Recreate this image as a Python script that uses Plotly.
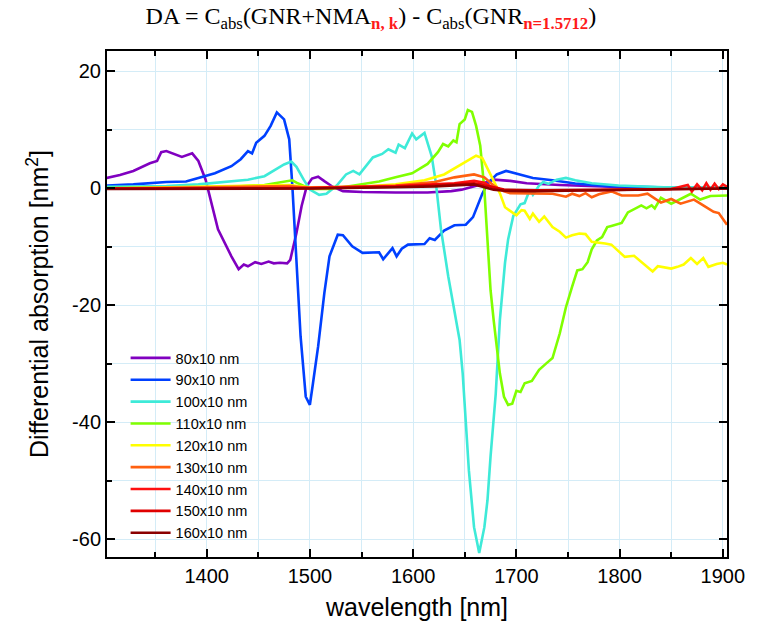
import plotly.graph_objects as go

# ---------------- data ----------------
labels = ["80x10 nm", "90x10 nm", "100x10 nm", "110x10 nm", "120x10 nm",
          "130x10 nm", "140x10 nm", "150x10 nm", "160x10 nm"]
colors = ["#8000C0", "#0040FF", "#3EEAD8", "#80FF00", "#FFFF00",
          "#FF6010", "#FF1010", "#E00000", "#8B0000"]

wl_80 = [1303, 1316, 1329, 1338, 1345, 1352, 1356, 1361, 1370, 1376, 1386, 1392, 1399, 1405,
         1411, 1424, 1431, 1436, 1440, 1447, 1453, 1460, 1465, 1471, 1478, 1481, 1487, 1492,
         1497, 1502, 1508, 1514, 1522, 1532, 1551, 1583, 1614, 1637, 1647, 1662, 1678, 1694,
         1710, 1742, 1773, 1805, 1850, 1904]
da_80 = [1.8, 2.3, 3.0, 3.8, 4.3, 4.7, 6.2, 6.4, 5.8, 5.4, 6.0, 4.7, 1.5, -3.0,
         -7.0, -11.6, -13.8, -13.0, -13.3, -12.6, -12.9, -12.5, -12.8, -12.7, -12.8, -12.2, -7.6, -3.0,
         0.4, 1.7, 2.0, 1.25, 0.3, -0.45, -0.6, -0.7, -0.7, -0.45, -0.2, 0.5, 1.5, 1.3,
         0.9, 0.6, 0.4, 0.2, 0.1, 0.0]

wl_90 = [1303, 1329, 1361, 1380, 1392, 1408, 1424, 1433, 1440, 1444, 1448, 1456, 1462, 1468,
         1475, 1480, 1483, 1487, 1491, 1496, 1500, 1503, 1508, 1514, 1519, 1527, 1532, 1541,
         1551, 1567, 1571, 1580, 1584, 1589, 1595, 1611, 1616, 1621, 1630, 1640, 1651, 1658,
         1662, 1667, 1672, 1681, 1690, 1704, 1716, 1735, 1757, 1789, 1837, 1904]
da_90 = [0.5, 0.7, 1.1, 1.2, 1.8, 2.6, 3.8, 5.0, 6.4, 6.0, 7.8, 9.0, 10.7, 13.0,
         11.8, 8.4, 0.5, -12.0, -25.3, -35.6, -37.0, -33.3, -27.0, -17.9, -11.6, -7.9, -8.0, -9.9,
         -11.0, -10.9, -12.1, -10.2, -11.6, -10.3, -9.6, -9.5, -8.5, -8.8, -7.2, -6.3, -6.2, -4.9,
         -3.2, -0.9, 0.8, 2.4, 3.0, 2.4, 1.8, 1.4, 0.85, 0.4, 0.2, 0.1]

wl_100 = [1303, 1361, 1392, 1424, 1440, 1456, 1466, 1475, 1482, 1487, 1494, 1500, 1509, 1516,
          1526, 1535, 1542, 1548, 1561, 1570, 1576, 1583, 1586, 1592, 1599, 1603, 1611, 1618,
          1622, 1627, 1634, 1640, 1645, 1648, 1651, 1654, 1659, 1664, 1669, 1672, 1675, 1680,
          1684, 1689, 1692, 1697, 1704, 1708, 1713, 1716, 1722, 1726, 1731, 1739, 1748, 1757,
          1773, 1799, 1843, 1904]
da_100 = [0.3, 0.4, 0.7, 1.2, 1.5, 2.1, 3.1, 4.1, 4.6, 3.7, 1.5, -0.2, -1.1, -0.9,
          0.5, 2.4, 3.0, 2.4, 5.3, 5.9, 6.7, 6.1, 7.5, 6.9, 9.4, 8.4, 9.5, 5.5,
          1.0, -7.0, -15.0, -21.3, -25.9, -31.6, -39.6, -48.2, -57.9, -62.3, -57.9, -53.3, -45.8, -35.1,
          -22.5, -12.7, -8.7, -4.7, -2.7, -2.5, -0.2, -1.1, 0.5, 1.1, 0.8, 1.5, 1.8, 1.4,
          0.9, 0.5, 0.2, 0.2]

wl_110 = [1303, 1424, 1456, 1475, 1483, 1487, 1497, 1503, 1519, 1535, 1551, 1567, 1583, 1599,
          1614, 1624, 1629, 1634, 1639, 1642, 1645, 1650, 1653, 1657, 1661, 1665, 1669, 1672,
          1675, 1678, 1681, 1684, 1688, 1692, 1696, 1700, 1704, 1708, 1715, 1718, 1722, 1729,
          1735, 1742, 1748, 1754, 1759, 1764, 1769, 1773, 1778, 1783, 1788, 1792, 1802, 1808,
          1821, 1826, 1831, 1834, 1840, 1850, 1859, 1869, 1878, 1888, 1904]
da_110 = [0.05, 0.3, 0.6, 1.2, 1.4, 1.0, 0.2, -0.1, -0.1, 0.3, 0.8, 1.2, 1.9, 2.6,
          4.2, 6.2, 7.6, 7.2, 8.2, 7.9, 11.0, 11.8, 13.4, 13.1, 10.7, 7.3, -0.2, -9.0,
          -17.4, -22.5, -27.6, -31.6, -35.6, -37.0, -36.8, -34.6, -34.8, -33.3, -32.9, -32.0, -31.0, -29.9,
          -29.0, -24.8, -20.3, -16.8, -14.0, -13.8, -12.6, -10.4, -8.9, -8.3, -6.6, -6.4, -5.9, -4.1,
          -2.9, -3.4, -2.9, -3.4, -1.6, -2.6, -1.8, -0.9, -1.9, -1.3, -1.2]

wl_120 = [1303, 1480, 1500, 1551, 1583, 1611, 1630, 1646, 1661, 1667, 1671, 1678, 1684, 1689,
          1696, 1700, 1705, 1708, 1713, 1716, 1722, 1727, 1735, 1742, 1748, 1754, 1761, 1767,
          1773, 1780, 1786, 1792, 1805, 1814, 1824, 1832, 1837, 1843, 1850, 1856, 1862, 1869,
          1875, 1881, 1886, 1894, 1900, 1904]
da_120 = [0.0, 0.6, 0.2, 0.3, 0.7, 1.4, 2.4, 4.1, 5.6, 5.2, 3.8, 1.5, -0.8, -3.2,
          -4.0, -4.6, -3.7, -3.8, -5.2, -4.3, -5.7, -4.8, -6.6, -7.4, -8.4, -8.0, -7.7, -7.8,
          -9.1, -9.2, -9.4, -9.6, -11.7, -11.5, -13.0, -14.2, -13.3, -13.5, -13.7, -13.4, -13.0, -11.9,
          -12.9, -11.9, -13.4, -12.9, -12.7, -13.0]

wl_130 = [1303, 1480, 1500, 1583, 1621, 1640, 1659, 1669, 1678, 1688, 1694, 1716, 1735, 1748,
          1754, 1761, 1767, 1773, 1780, 1792, 1802, 1818, 1827, 1840, 1850, 1859, 1872, 1881,
          1891, 1896, 1900, 1904]
da_130 = [0.0, 0.4, 0.1, 0.5, 1.1, 1.9, 2.4, 1.9, 0.5, -0.5, -0.8, -0.9, -0.9, -1.4,
          -0.9, -1.3, -0.8, -1.5, -1.0, -0.5, -1.2, -1.2, -0.9, -2.4, -1.8, -2.6, -1.9, -2.9,
          -4.0, -4.2, -5.3, -6.2]

wl_140 = [1303, 1500, 1583, 1621, 1640, 1659, 1669, 1678, 1688, 1720, 1780, 1850, 1866, 1870,
          1875, 1880, 1884, 1888, 1892, 1896, 1900, 1904]
da_140 = [0.0, 0.1, 0.4, 0.7, 0.9, 1.3, 1.0, 0.1, -0.3, -0.3, -0.3, -0.1, 0.6, -0.5,
          0.7, -0.3, 0.9, -0.2, 0.8, -0.1, 0.7, 0.3]

wl_150 = [1303, 1500, 1583, 1621, 1659, 1678, 1688, 1720, 1800, 1904]
da_150 = [0.0, 0.05, 0.3, 0.6, 0.9, 0.2, -0.2, -0.3, -0.2, 0.0]

wl_160 = [1303, 1500, 1583, 1621, 1659, 1678, 1688, 1716, 1780, 1850, 1904]
da_160 = [-0.1, 0.0, 0.2, 0.35, 0.7, -0.2, -0.4, -0.45, -0.3, -0.1, 0.0]

x_ticks = [1400, 1500, 1600, 1700, 1800, 1900]
y_ticks = [-60, -40, -20, 0, 20]

series = [(wl_80, da_80), (wl_90, da_90), (wl_100, da_100), (wl_110, da_110),
          (wl_120, da_120), (wl_130, da_130), (wl_140, da_140), (wl_150, da_150),
          (wl_160, da_160)]

# ---------------- figure ----------------
fig = go.Figure()
for (wx, wy), name, col in zip(series, labels, colors):
    fig.add_trace(go.Scatter(x=wx, y=wy, mode="lines", name=name,
                             line=dict(color=col, width=2.6)))

grid_col = "#D4ECF7"
axis_common = dict(showline=True, linecolor="black", linewidth=2, mirror="ticks",
                   ticks="inside", ticklen=8, tickwidth=2, tickcolor="black",
                   showgrid=False, zeroline=False,
                   tickfont=dict(family="Liberation Sans, Arial", size=20, color="black"))

fig.update_xaxes(range=[1303.5, 1904], tickvals=x_ticks,
                 ticktext=[str(v) for v in x_ticks], **axis_common,
                 minor=dict(dtick=50, tick0=1300, ticks="inside", ticklen=5, tickwidth=2,
                            tickcolor="black", showgrid=True, gridcolor=grid_col, gridwidth=1),
                 title=dict(text="wavelength [nm]", standoff=12,
                            font=dict(family="Liberation Sans, Arial", size=25, color="black")))
fig.update_yaxes(range=[-63, 23.5], tickvals=y_ticks,
                 ticktext=[str(v) for v in y_ticks], **axis_common,
                 minor=dict(dtick=10, tick0=0, ticks="inside", ticklen=5, tickwidth=2,
                            tickcolor="black", showgrid=True, gridcolor=grid_col, gridwidth=1),
                 title=dict(text="Differential absorption [nm<sup>2</sup>]", standoff=16,
                            font=dict(family="Liberation Sans, Arial", size=25, color="black")))

sub_style = "color:#FF1A1A"
title_text = ("DA = C<sub>abs</sub>(GNR+NMA<sub><b><span style='%s'>n, k</span></b></sub>) - "
              "C<sub>abs</sub>(GNR<sub><b><span style='%s'>n=1.5712</span></b></sub>)") % (sub_style, sub_style)

fig.update_layout(
    width=757, height=636,
    margin=dict(l=107, r=20, t=51, b=79),
    paper_bgcolor="white", plot_bgcolor="white",
    title=dict(text=title_text, x=0.49, xanchor="center", y=0.988, yanchor="top",
               font=dict(family="Liberation Serif, Times New Roman", size=24, color="black")),
    legend=dict(x=0.03, y=0.425, xanchor="left", yanchor="top", bgcolor="rgba(0,0,0,0)",
                font=dict(family="Liberation Sans, Arial", size=14.5, color="black"),
                tracegroupgap=0, itemwidth=40),
    showlegend=True,
)

fig.write_html("out.html")
